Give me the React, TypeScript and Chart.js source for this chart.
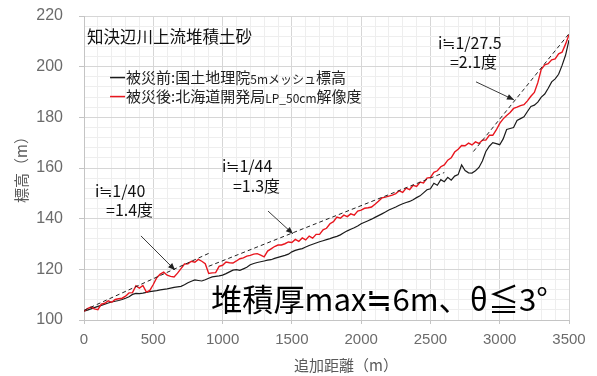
import { useEffect, useRef } from 'react';
import { Chart, registerables } from 'chart.js';

Chart.register(...registerables);

// Distance along the survey line (m)
const DIST = [
  0, 25, 50, 75, 100, 125, 150, 175, 200, 225,
  250, 275, 300, 325, 350, 375, 400, 425, 450, 475,
  500, 525, 550, 575, 600, 625, 650, 675, 700, 725,
  750, 775, 800, 825, 850, 875, 900, 925, 950, 975,
  1000, 1025, 1050, 1075, 1100, 1125, 1150, 1175, 1200, 1225,
  1250, 1275, 1300, 1325, 1350, 1375, 1400, 1425, 1450, 1475,
  1500, 1525, 1550, 1575, 1600, 1625, 1650, 1675, 1700, 1725,
  1750, 1775, 1800, 1825, 1850, 1875, 1900, 1925, 1950, 1975,
  2000, 2025, 2050, 2075, 2100, 2125, 2150, 2175, 2200, 2225,
  2250, 2275, 2300, 2325, 2350, 2375, 2400, 2425, 2450, 2475,
  2500, 2525, 2550, 2575, 2600, 2625, 2650, 2675, 2700, 2725,
  2750, 2775, 2800, 2825, 2850, 2875, 2900, 2925, 2950, 2975,
  3000, 3025, 3050, 3075, 3100, 3125, 3150, 3175, 3200, 3225,
  3250, 3275, 3300, 3325, 3350, 3375, 3400, 3425, 3450, 3475,
  3500,
];

// Elevation before the disaster (5m mesh DEM)
const BEFORE = [
  103.5, 103.9, 104.4, 104.9, 105.4, 105.8, 106.2, 106.7, 107.1, 107.4,
  107.7, 108.1, 108.6, 109.2, 110.1, 110.5, 110.4, 110.6, 110.9, 111.2,
  111.4, 111.6, 111.9, 112.1, 112.3, 112.6, 112.9, 113.1, 113.3, 113.9,
  114.7, 115.3, 115.8, 115.6, 115.4, 115.9, 116.5, 117.0, 117.2, 117.4,
  117.7, 118.3, 119.0, 119.7, 119.9, 119.6, 120.2, 120.8, 121.8, 122.3,
  122.7, 123.0, 123.3, 123.6, 123.8, 124.3, 124.7, 125.1, 125.5, 126.0,
  126.9, 127.5, 127.9, 128.2, 128.8, 129.4, 129.9, 130.4, 130.9, 131.3,
  131.7, 132.1, 132.6, 133.0, 133.6, 134.4, 135.2, 135.8, 136.4, 137.1,
  138.0, 138.6, 139.2, 139.8, 140.5, 141.2, 141.9, 142.6, 143.4, 144.0,
  144.6, 145.3, 145.9, 146.4, 146.8, 147.5, 148.3, 149.0, 150.2, 151.4,
  151.8, 154.0, 153.2, 155.4, 154.6, 156.3, 155.2, 156.8, 157.4, 161.2,
  159.0, 158.1, 158.0, 158.9, 160.2, 162.8, 166.5, 168.6, 170.0, 169.6,
  169.2, 171.5, 175.2, 175.6, 176.0, 178.8, 179.5, 180.2, 182.3, 184.3,
  184.8, 186.0, 188.0, 189.2, 191.5, 194.0, 195.2, 197.0, 200.5, 204.5,
  210.5,
];

// Elevation after the disaster (LP 50cm resolution)
const AFTER = [
  103.5, 104.5, 105.1, 104.4, 104.1, 106.3, 106.6, 107.6, 107.0, 108.1,
  108.4, 108.6, 109.4, 110.7, 110.8, 113.5, 112.6, 113.6, 111.0, 111.7,
  114.0, 116.7, 118.1, 118.9, 117.7, 117.2, 117.0, 118.5, 120.3, 122.1,
  122.2, 123.2, 122.8, 123.9, 123.2, 122.2, 118.4, 118.6, 118.7, 121.2,
  121.6, 122.9, 122.6, 122.5, 123.3, 124.2, 124.5, 125.2, 125.5, 126.0,
  126.2, 125.6, 124.9, 127.2, 128.1, 129.0, 129.6, 129.6, 130.1, 130.8,
  130.6, 131.8, 131.0, 132.4, 131.6, 133.1, 132.3, 133.8, 133.8, 135.6,
  136.2, 138.0, 138.8, 140.6, 140.2, 141.4, 140.8, 141.9, 141.4, 143.0,
  143.4, 144.1, 144.3, 144.6, 145.7, 146.9, 148.2, 148.5, 148.9, 149.3,
  149.9, 151.0, 150.4, 152.1, 151.5, 153.2, 152.7, 154.4, 154.1, 156.0,
  156.3, 158.3, 158.9, 160.5, 161.2, 163.1, 164.0, 166.3, 167.4, 168.9,
  168.8, 169.8, 169.1, 170.3, 169.7, 171.0, 171.0, 172.9, 172.9, 175.0,
  177.6, 179.4, 180.7, 181.9, 183.5, 184.0, 184.6, 185.0, 186.5, 188.3,
  189.8, 193.7, 199.0, 200.7, 201.2, 202.7, 203.1, 205.1, 205.7, 208.9,
  212.6,
];

// Reference gradient lines (start / end)
const SLOPE_LOWER_X = [0, 900];
const SLOPE_LOWER_Y = [103.8, 126.3];
const SLOPE_MIDDLE_X = [900, 2600];
const SLOPE_MIDDLE_Y = [121.2, 158.2];
const SLOPE_UPPER_X = [2810, 3500];
const SLOPE_UPPER_Y = [166.5, 213.0];

// Axis ranges and tick spacing
const X_RANGE = [0, 3500];
const Y_RANGE = [100, 220];
const X_MAJOR = 500;
const X_MINOR = 100;
const Y_MAJOR = 20;
const Y_MINOR = 4;

const TITLE = '知決辺川上流堆積土砂';
const X_TITLE = '追加距離（m）';
const Y_TITLE = '標高（m）';
const SUMMARY = '堆積厚max≒6m、θ≦3°';

// Gradient notes: two text lines plus an arrow (all in data units)
const NOTE_LINES = [
  ['i≒1/40', '=1.4度'],
  ['i≒1/44', '=1.3度'],
  ['i≒1/27.5', '=2.1度'],
];
const NOTE_POS = [
  [[79, 151.0], [159, 143.5]],
  [[996, 160.9], [1075, 153.0]],
  [[2555, 209.5], [2641, 202.0]],
];
const ARROW_FROM = [[411, 133.2], [1328, 143.0], [2829, 194.0]];
const ARROW_TO = [[657, 119.7], [1508, 134.0], [3103, 186.9]];

const BLACK = '#1b1b1b';
const RED = '#e8161e';
const CJK = '"Noto Sans CJK JP", "Noto Sans", sans-serif';

const pts = (xs: number[], ys: number[]) => xs.map((x, i) => ({ x, y: ys[i] }));

const overlay = {
  id: 'overlay',
  afterDatasetsDraw(chart: any) {
    const { ctx, scales } = chart;
    const sx = scales.x;
    const sy = scales.y;
    const px = (v: number) => sx.getPixelForValue(v);
    const py = (v: number) => sy.getPixelForValue(v);

    ctx.save();
    ctx.textBaseline = 'middle';
    ctx.textAlign = 'left';

    // Title
    ctx.fillStyle = '#111';
    ctx.font = `16.5px ${CJK}`;
    ctx.fillText(TITLE, px(22), py(211.7));

    // Legend with mixed font sizes
    const legendRows: Array<{ color: string; y: number; parts: [string, number][] }> = [
      { color: BLACK, y: 195.7, parts: [['被災前:国土地理院', 15], ['5mメッシュ', 12], ['標高', 15]] },
      { color: RED, y: 188.2, parts: [['被災後:北海道開発局', 15], ['LP_50cm', 12], ['解像度', 15]] },
    ];
    for (const row of legendRows) {
      const yy = py(row.y);
      const x0 = px(188);
      ctx.strokeStyle = row.color;
      ctx.lineWidth = 1.5;
      ctx.beginPath();
      ctx.moveTo(x0, yy);
      ctx.lineTo(x0 + 15, yy);
      ctx.stroke();
      let cx = x0 + 16;
      ctx.fillStyle = '#222';
      for (const [t, s] of row.parts) {
        ctx.font = `${s}px ${CJK}`;
        ctx.fillText(t, cx, yy + (s < 15 ? 1.5 : 0));
        cx += ctx.measureText(t).width;
      }
    }

    // Gradient notes and arrows
    ctx.fillStyle = '#111';
    ctx.font = `16px ${CJK}`;
    NOTE_LINES.forEach((lines, i) => {
      lines.forEach((t, j) => {
        const [dx, dy] = NOTE_POS[i][j];
        ctx.fillText(t, px(dx), py(dy));
      });
      const x1 = px(ARROW_FROM[i][0]);
      const y1 = py(ARROW_FROM[i][1]);
      const x2 = px(ARROW_TO[i][0]);
      const y2 = py(ARROW_TO[i][1]);
      ctx.strokeStyle = '#3a3a3a';
      ctx.lineWidth = 1;
      ctx.beginPath();
      ctx.moveTo(x1, y1);
      ctx.lineTo(x2, y2);
      ctx.stroke();
      const a = Math.atan2(y2 - y1, x2 - x1);
      const L = 7;
      const W = 3;
      ctx.fillStyle = '#222';
      ctx.beginPath();
      ctx.moveTo(x2, y2);
      ctx.lineTo(x2 - L * Math.cos(a) + W * Math.sin(a), y2 - L * Math.sin(a) - W * Math.cos(a));
      ctx.lineTo(x2 - L * Math.cos(a) - W * Math.sin(a), y2 - L * Math.sin(a) + W * Math.cos(a));
      ctx.closePath();
      ctx.fill();
      ctx.fillStyle = '#111';
    });

    // Summary statement, fitted between its start and end distances
    const sLeft = px(917);
    const sRight = px(3350);
    ctx.font = `32px ${CJK}`;
    const w = ctx.measureText(SUMMARY).width;
    const size = 32 * (sRight - sLeft) / w;
    ctx.font = `${size.toFixed(2)}px ${CJK}`;
    ctx.fillStyle = '#000';
    ctx.fillText(SUMMARY, sLeft, py(108.3));

    // Axis titles
    ctx.fillStyle = '#595959';
    ctx.font = `15px ${CJK}`;
    ctx.fillText(X_TITLE, 294, 365);
    ctx.translate(21, 203);
    ctx.rotate(-Math.PI / 2);
    ctx.fillText(Y_TITLE, 0, 0);
    ctx.restore();
  },
};

export default function App() {
  const ref = useRef<HTMLCanvasElement | null>(null);

  useEffect(() => {
    document.body.style.margin = '0';
    const canvas = ref.current;
    if (!canvas) return;

    const majorX = (v: number) => v % X_MAJOR === 0;
    const majorY = (v: number) => v % Y_MAJOR === 0;

    const chart = new Chart(canvas, {
      type: 'line',
      data: {
        datasets: [
          {
            label: 'slope-lower',
            data: pts(SLOPE_LOWER_X, SLOPE_LOWER_Y),
            borderColor: '#222',
            borderWidth: 1,
            borderDash: [4, 3],
            pointRadius: 0,
          },
          {
            label: 'slope-middle',
            data: pts(SLOPE_MIDDLE_X, SLOPE_MIDDLE_Y),
            borderColor: '#222',
            borderWidth: 1,
            borderDash: [4, 3],
            pointRadius: 0,
          },
          {
            label: 'slope-upper',
            data: pts(SLOPE_UPPER_X, SLOPE_UPPER_Y),
            borderColor: '#222',
            borderWidth: 1,
            borderDash: [4, 3],
            pointRadius: 0,
          },
          {
            label: '被災後',
            data: pts(DIST, AFTER),
            borderColor: RED,
            borderWidth: 1.4,
            pointRadius: 0,
          },
          {
            label: '被災前',
            data: pts(DIST, BEFORE),
            borderColor: BLACK,
            borderWidth: 1.2,
            pointRadius: 0,
          },
        ],
      },
      options: {
        animation: false,
        responsive: true,
        maintainAspectRatio: false,
        layout: { padding: { left: 0, top: 16, right: 28, bottom: 0 } },
        plugins: {
          legend: { display: false },
          tooltip: { enabled: false },
        },
        elements: { line: { tension: 0 } },
        scales: {
          x: {
            type: 'linear',
            min: X_RANGE[0],
            max: X_RANGE[1],
            afterFit: (s: any) => {
              s.height = 56;
              s.paddingLeft = 0;
              s.paddingRight = 0;
            },
            ticks: {
              stepSize: X_MINOR,
              autoSkip: false,
              maxRotation: 0,
              padding: 7,
              color: '#6b6b6b',
              font: { family: '"Liberation Sans", Arial, sans-serif', size: 15 },
              callback: (v: any) => (majorX(Number(v)) ? String(v) : ''),
            },
            grid: {
              color: (c: any) => (majorX(c.tick.value) ? '#d6d6d6' : '#eeeeee'),
              tickColor: (c: any) => (majorX(c.tick.value) ? '#c4c4c4' : 'rgba(0,0,0,0)'),
              tickLength: 4,
            },
            border: { color: '#c4c4c4' },
          },
          y: {
            type: 'linear',
            min: Y_RANGE[0],
            max: Y_RANGE[1],
            afterFit: (s: any) => {
              s.width = 84;
              s.paddingTop = 0;
              s.paddingBottom = 0;
            },
            ticks: {
              stepSize: Y_MINOR,
              autoSkip: false,
              padding: 16,
              color: '#6b6b6b',
              font: { family: '"Liberation Sans", Arial, sans-serif', size: 16 },
              callback: (v: any) => (majorY(Number(v)) ? String(v) : ''),
            },
            grid: {
              color: (c: any) => (majorY(c.tick.value) ? '#d6d6d6' : '#eeeeee'),
              tickColor: (c: any) => (majorY(c.tick.value) ? '#c4c4c4' : 'rgba(0,0,0,0)'),
              tickLength: 5,
            },
            border: { color: '#c4c4c4' },
          },
        },
      },
      plugins: [overlay],
    });

    return () => chart.destroy();
  }, []);

  return (
    <div style={{ position: 'relative', width: 597, height: 376, background: '#fff' }}>
      <canvas ref={ref} />
    </div>
  );
}
